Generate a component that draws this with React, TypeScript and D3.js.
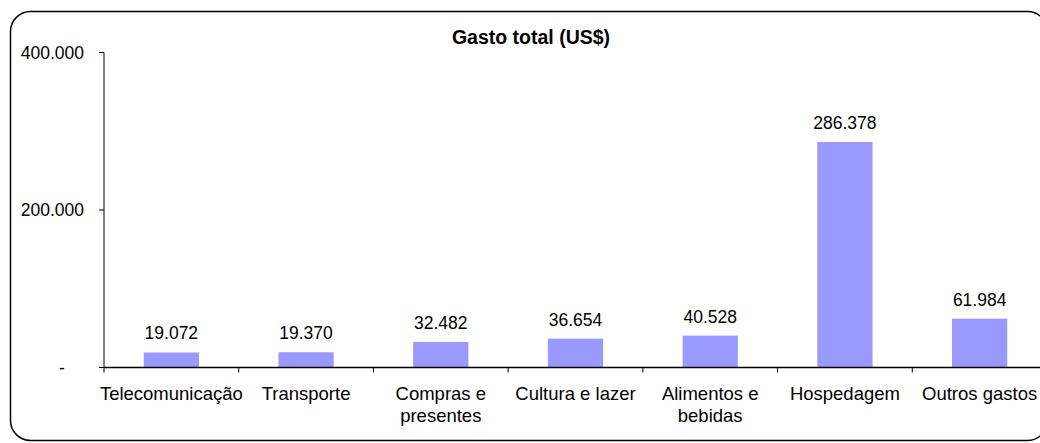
import React from "react";
import * as d3 from "d3";

const categories: string[][] = [
  ["Telecomunicação"],
  ["Transporte"],
  ["Compras e", "presentes"],
  ["Cultura e lazer"],
  ["Alimentos e", "bebidas"],
  ["Hospedagem"],
  ["Outros gastos"],
];
const values: number[] = [19072, 19370, 32482, 36654, 40528, 286378, 61984];
const yTicks: number[] = [0, 200000, 400000];
const title = "Gasto total (US$)";

const W = 1040;
const H = 443;
const FONT = "'Liberation Sans', Arial, sans-serif";

const fmt = (v: number) => (v === 0 ? "-" : d3.format(",.0f")(v).replace(/,/g, "."));

export default function App() {
  const left = 104;
  const right = 1047;
  const x = d3
    .scaleBand<number>()
    .domain(categories.map((_, i) => i))
    .range([left, right])
    .paddingInner(0.59)
    .paddingOuter(0.295);
  const y = d3.scaleLinear().domain([0, 400000]).range([367.5, 52.5]);
  const step = (right - left) / categories.length;

  return (
    <svg
      width={W}
      height={H}
      style={{ position: "absolute", left: 0, top: 0, background: "#fff" }}
      fontFamily={FONT}
    >
      <rect x={10.5} y={11.5} width={1037} height={429} rx={20} ry={20} fill="#fff" stroke="#000" strokeWidth={1.5} />
      <text x={531} y={44} textAnchor="middle" fontSize={19.5} fontWeight="bold">
        {title}
      </text>
      {/* y axis */}
      <line x1={left} x2={left} y1={y(400000)} y2={y(0)} stroke="#000" strokeWidth={1} />
      {yTicks.map((t) => (
        <g key={t}>
          <line x1={left - 5} x2={left} y1={y(t)} y2={y(t)} stroke="#000" />
          <text
            x={t === 0 ? 62 : 84}
            y={y(t) + 6}
            textAnchor={t === 0 ? "middle" : "end"}
            fontSize={17.5}
          >
            {fmt(t)}
          </text>
        </g>
      ))}
      {/* bars */}
      {values.map((v, i) => (
        <g key={i}>
          <rect x={x(i)} y={y(v)} width={x.bandwidth()} height={y(0) - y(v)} fill="#9999FF" />
          <text x={(x(i) as number) + x.bandwidth() / 2} y={y(v) - 13} textAnchor="middle" fontSize={17.5}>
            {fmt(v)}
          </text>
        </g>
      ))}
      {/* x axis */}
      <line x1={left} x2={W} y1={y(0)} y2={y(0)} stroke="#000" strokeWidth={1.5} />
      {d3.range(categories.length + 1).map((i) => (
        <line key={i} x1={left + i * step} x2={left + i * step} y1={y(0)} y2={y(0) + 5} stroke="#000" />
      ))}
      {categories.map((lines, i) => (
        <text key={i} x={left + (i + 0.5) * step} y={400} textAnchor="middle" fontSize={18.5}>
          {lines.map((l, j) => (
            <tspan key={j} x={left + (i + 0.5) * step} dy={j === 0 ? 0 : 21.5}>
              {l}
            </tspan>
          ))}
        </text>
      ))}
    </svg>
  );
}
